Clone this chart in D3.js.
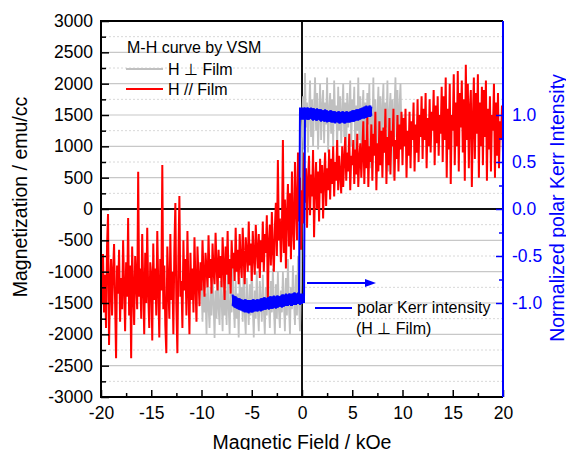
<!DOCTYPE html>
<html>
<head>
<meta charset="utf-8">
<script src="https://cdn.jsdelivr.net/npm/d3@7"></script>
<style>
    body { margin: 0; background: #fff; }
    svg { font-family: "Liberation Sans", Arial, sans-serif; }
</style>
</head>
<body>
<div id="graph"></div>
<script>
// H // Film, VSM, field -20 .. 20 kOe every 0.1 kOe (emu/cc)
var redStart = -20, redStep = 0.1
var redM = [
    -950, -1500, -720, -1650, -1050, -1900, -600, -80, -2170, -1250, -800, -1700, -1000, -560, -1450, -2380, -900, -1350, -650, -1800,
    -1100, -1600, -500, -1250, -1950, -850, -1400, -145, -1700, -900, -2380, -600, -1300, -1850, -750, -1150, -1600, 595, -1400, -950,
    -1750, -400, -1200, -2000, -700, -1500, -300, -1350, -1900, -850, -1050, -2100, -550, -1450, -950, -1700, -350, -1250, -2050, -800,
    -1300, 702, -1600, -900, -1850, -2300, -600, -1200, -1750, -400, -1450, -1000, -2000, -650, 96, -1550, -2300, -800, 207, -1400,
    -1150, -1900, -500, -1300, -800, -1700, -350, -1250, -2000, -700, -1450, -950, -1650, -450, -1200, -1800, -600, -1100, -1550, -850,
    -1300, -500, -1050, -1400, -700, -950, -1250, -420, -1100, -800, -1350, -550, -1000, -1200, -380, -900, -1300, -650, -1100, -750,
    -1250, -450, -900, -1450, -600, -1050, -350, -1200, -800, -1350, -500, -950, -700, -1150, -300, -1000, -650, -1200, -400, -850,
    -1100, -300, -800, -1200, -450, -700, -1000, -200, -900, -550, -1150, -350, -750, -1050, -250, -650, -950, -400, -1100, -500,
    -850, -200, -1000, -400, -700, -100, -1450, -550, -250, -900, -50, -650, -1000, -300, 100, -750, 780, -500, -150, -850,
    -400, 1100, -700, 150, -950, -100, 400, -600, 250, -800, 600, -300, -650, 750, 50, -500, 900, -200, 500, -650,
    300, -230, 900, 100, 650, -300, 450, 850, -100, 550, 200, 940, -450, 350, 750, 0, 600, -200, 800, 250,
    700, -150, 500, 900, 50, 650, 300, 950, 150, 800, 400, 1000, 200, 750, 450, 1100, 300, 850, 550, 250,
    1000, 350, 800, 1150, 450, 900, 600, 1200, 300, 850, 700, 1100, 400, 950, 550, 1200, 350, 800, 1050, 500,
    900, 1400, 400, 1100, 650, 1500, 350, 1000, 750, 1350, 450, 1200, 850, 1550, 300, 1050, 600, 1400, 700, 1250,
    500, 1300, 900, 1600, 400, 1150, 700, 1450, 550, 1250, 1000, 1600, 450, 1100, 800, 1500, 600, 1350, 950, 1550,
    700, 1450, 1000, 1600, 500, 1250, 850, 1550, 650, 1400, 1100, 1700, 600, 1350, 900, 1750, 750, 1500, 1150, 1800,
    800, 1600, 1100, 1850, 650, 1450, 1000, 1750, 900, 1550, 1250, 1900, 700, 1650, 1050, 1800, 850, 1500, 1200, 1950,
    750, 1800, 1100, 2100, 500, 1600, 950, 2000, 400, 1500, 1250, 2150, 700, 1700, 1000, 2200, 600, 1850, 1300, 2050,
    900, 1750, 450, 2300, 1100, 2000, 650, 1600, 1900, 350, 1400, 2100, 800, 1850, 1200, 2150, 500, 1700, 1000, 1950,
    700, 1900, 1150, 2050, 450, 1600, 950, 1800, 600, 1500, 1250, 2000, 500, 1700, 850, 1850, 650, 1400, 1100, 1650,
    900
]

// H ⊥ Film, VSM, field -10 .. 10 kOe every 0.1 kOe (emu/cc)
var grayStart = -10, grayStep = 0.1
var grayM = [
    -1200, -1800, -1000, -1650, -1350, -2000, -1100, -1550, -1900, -1250, -1700, -1050, -1500, -2060, -1300, -1750, -950, -1600, -1850, -1150,
    -1450, -1950, -1050, -1700, -1300, -1850, -1000, -1550, -2000, -1200, -1650, -900, -1500, -1900, -1150, -1750, -1350, -2050, -1100, -1600,
    -1250, -1800, -950, -1650, -2000, -1100, -1500, -1850, -1200, -1700, -900, -1550, -2050, -1300, -1750, -1000, -1600, -1950, -1150, -1450,
    -1800, -1050, -1600, -2000, -1250, -1700, -850, -1500, -1900, -1150, -1650, -950, -1550, -2000, -1200, -1750, -1000, -1600, -1900, -1300,
    -1650, -1000, -1500, -1950, -1100, -1700, -800, -1550, -2000, -1250, -1600, -900, -1450, -1850, -1050, -1700, -750, -1500, -1950, -1200,
    1300,
    1800, 950, 2170, 1300, 1700, 900, 1550, 2050, 1150, 1750, 1000, 1600, 2100, 1250, 1850, 950, 1500, 2000, 1100, 1650,
    1900, 1050, 1700, 1350, 2100, 900, 1600, 1850, 1200, 1750, 1000, 2050, 1400, 1650, 950, 1950, 1250, 1800, 1050, 1550,
    2000, 1150, 1700, 900, 1850, 1300, 1600, 2050, 1000, 1750, 1450, 1950, 850, 1650, 1250, 2100, 1100, 1800, 950, 1550,
    1900, 1050, 1700, 800, 1850, 1350, 2000, 650, 1600, 1200, 2100, 950, 1750, 550, 1500, 1950, 1100, 1800, 700, 1650,
    2000, 900, 1700, 1300, 2050, 600, 1550, 1850, 1000, 1750, 510, 1600, 2100, 1150, 1900, 800, 1650, 2000, 1200, 1500
]

// polar Kerr intensity (normalized), field -6.9 .. 6.9 kOe every 0.1 kOe
var kerrStart = -6.9, kerrStep = 0.1
var kerrUp = [
    -0.91, -1.04, -0.93, -1.05, -0.94, -1.06, -0.95, -1.07, -0.96, -1.08,
    -0.97, -1.09, -0.96, -1.09, -0.97, -1.1, -0.97, -1.09, -0.98, -1.1,
    -0.96, -1.09, -0.97, -1.08, -0.96, -1.09, -0.97, -1.08, -0.95, -1.08,
    -0.95, -1.07, -0.94, -1.07, -0.95, -1.06, -0.94, -1.06, -0.93, -1.06,
    -0.93, -1.05, -0.94, -1.06, -0.92, -1.05, -0.93, -1.04, -0.92, -1.05,
    -0.91, -1.04, -0.92, -1.03, -0.91, -1.03, -0.9, -1.02, -0.91, -1.03,
    -0.9, -1.02, -0.89, -1.02, -0.9, -1.01, -0.89, -1.02, -0.9,
    -1.01, -0.9, -1.0,
    1.08, 0.96, 1.08, 0.95, 1.07, 0.96, 1.08, 0.95,
    1.07, 0.95, 1.06, 0.94, 1.07, 0.95, 1.06, 0.94, 1.06, 0.94,
    1.05, 0.93, 1.06, 0.94, 1.05, 0.93, 1.04, 0.93, 1.05, 0.92,
    1.04, 0.92, 1.04, 0.93, 1.03, 0.92, 1.04, 0.91, 1.03, 0.92,
    1.04, 0.91, 1.03, 0.92, 1.04, 0.92, 1.03, 0.92, 1.04, 0.93,
    1.05, 0.93, 1.05, 0.94, 1.06, 0.94, 1.06, 0.95, 1.07, 0.96,
    1.08, 0.96, 1.09, 0.97, 1.09, 0.98, 1.1, 0.98, 1.09
]
var kerrDown = [
    -1.03, -0.92, -1.05, -0.93, -1.06, -0.95, -1.07, -0.95, -1.08, -0.96,
    -1.09, -0.97, -1.1, -0.96, -1.1, -0.98, -1.11, -0.97, -1.1, -0.97,
    -1.1, -0.96, -1.09, -0.97, -1.09, -0.96, -1.08, -0.96, -1.09, -0.95,
    -1.08, -0.94, -1.07, -0.95, -1.06, -0.94, -1.07, -0.93, -1.06, -0.94,
    -1.06, -0.92, -1.05, -0.93, -1.05, -0.92, -1.04, -0.93, -1.04, -0.91,
    -1.04, -0.91, -1.03, -0.9, -1.03, -0.91, -1.02, -0.9, -1.03, -0.9,
    -1.02, -0.89, -1.02, -0.9, -1.01, -0.89, -1.01,
    1.08, 0.95, 1.08,
    0.95, 1.08, 0.96, 1.07, 0.95, 1.08, 0.95, 1.07, 0.96, 1.07,
    0.94, 1.07, 0.95, 1.06, 0.94, 1.06, 0.95, 1.06, 0.93, 1.05,
    0.94, 1.05, 0.93, 1.05, 0.92, 1.04, 0.93, 1.05, 0.92, 1.04,
    0.92, 1.04, 0.91, 1.03, 0.92, 1.04, 0.91, 1.03, 0.92, 1.04,
    0.92, 1.03, 0.91, 1.04, 0.92, 1.03, 0.92, 1.04, 0.93, 1.05,
    0.93, 1.05, 0.94, 1.06, 0.95, 1.06, 0.95, 1.07, 0.96, 1.08,
    0.97, 1.09, 0.97, 1.1, 0.98, 1.09, 0.98, 1.1, 0.99
]

var xTicks = [-20, -15, -10, -5, 0, 5, 10, 15, 20]
var xMinor = [-17.5, -12.5, -7.5, -2.5, 2.5, 7.5, 12.5, 17.5]
var yTicks = [-3000, -2500, -2000, -1500, -1000, -500, 0, 500, 1000, 1500, 2000, 2500, 3000]
var yMinor = [-2750, -2250, -1750, -1250, -750, -250, 250, 750, 1250, 1750, 2250, 2750]
var kerrTicks = [-1.0, -0.5, 0.0, 0.5, 1.0]
var kerrMinor = [-0.75, -0.25, 0.25, 0.75]

function toPoints(values, start, step) {
    return values.map(function (v, i) { return { h: start + i * step, v: v } })
}

function drawChart() {
    var margin = { top: 21, right: 63, bottom: 53, left: 101 };
    var width = 566 - margin.left - margin.right, height = 450 - margin.top - margin.bottom;
    var blue = '#0000ff'

    var root = d3.select('#graph').append('svg')
        .attr('width', 566)
        .attr('height', 450)

    var svg = root.append('g')
        .attr('transform', 'translate(' + margin.left + ',' + margin.top + ')')

    var x = d3.scaleLinear().domain([-20, 20]).range([0, width])
    var y = d3.scaleLinear().domain([-3000, 3000]).range([height, 0])
    var yK = d3.scaleLinear().domain([-2, 2]).range([height, 0])

    svg.append('defs').append('clipPath')
        .attr('id', 'clip')
        .append('rect')
        .attr('width', width)
        .attr('height', height)

    // grid
    svg.append('g').selectAll('line')
        .data(yMinor)
        .enter().append('line')
        .attr('x1', 0).attr('x2', width)
        .attr('y1', function (d) { return y(d) }).attr('y2', function (d) { return y(d) })
        .attr('stroke', '#d8d8d8')
        .attr('stroke-dasharray', '2,2')
        .attr('stroke-width', 1)
    svg.append('g').selectAll('line')
        .data(yTicks.filter(function (d) { return Math.abs(d) < 3000 && d != 0 }))
        .enter().append('line')
        .attr('x1', 0).attr('x2', width)
        .attr('y1', function (d) { return y(d) }).attr('y2', function (d) { return y(d) })
        .attr('stroke', '#c8c8c8')
        .attr('stroke-width', 1.2)

    // zero lines
    svg.append('line')
        .attr('x1', 0).attr('x2', width)
        .attr('y1', y(0)).attr('y2', y(0))
        .attr('stroke', '#111').attr('stroke-width', 2)
    svg.append('line')
        .attr('x1', x(0)).attr('x2', x(0))
        .attr('y1', 0).attr('y2', height)
        .attr('stroke', '#111').attr('stroke-width', 2)

    var plot = svg.append('g').attr('clip-path', 'url(#clip)')

    var lineM = d3.line()
        .x(function (d) { return x(d.h) })
        .y(function (d) { return y(d.v) })
    var lineK = d3.line()
        .x(function (d) { return x(d.h) })
        .y(function (d) { return yK(d.v) })

    plot.append('path')
        .datum(toPoints(grayM, grayStart, grayStep))
        .attr('d', lineM)
        .attr('fill', 'none')
        .attr('stroke', '#c0c0c0')
        .attr('stroke-width', 1.8)

    plot.append('path')
        .datum(toPoints(redM, redStart, redStep))
        .attr('d', lineM)
        .attr('fill', 'none')
        .attr('stroke', '#ff0000')
        .attr('stroke-width', 2)

    plot.selectAll('.kerr')
        .data([kerrUp, kerrDown])
        .enter().append('path')
        .attr('class', 'kerr')
        .attr('d', function (d) { return lineK(toPoints(d, kerrStart, kerrStep)) })
        .attr('fill', 'none')
        .attr('stroke', blue)
        .attr('stroke-width', 2)

    // axes
    function styleAxis(g, color) {
        g.select('.domain').remove()
        g.attr('font-family', null).attr('font-size', 17.5)
        g.selectAll('line').attr('stroke', color).attr('stroke-width', 1.5)
        g.selectAll('text').attr('fill', color)
    }

    svg.append('g')
        .call(d3.axisLeft(y).tickValues(yTicks).tickSize(-8).tickPadding(8).tickFormat(function (d) { return String(d) }))
        .call(styleAxis, '#000')
    svg.append('g')
        .call(d3.axisLeft(y).tickValues(yMinor).tickSize(-5).tickFormat(''))
        .call(styleAxis, '#000')

    svg.append('g')
        .attr('transform', 'translate(0,' + height + ')')
        .call(d3.axisBottom(x).tickValues(xTicks).tickSize(-7).tickPadding(10).tickFormat(function (d) { return String(d) }))
        .call(styleAxis, '#000')
    svg.append('g')
        .attr('transform', 'translate(0,' + height + ')')
        .call(d3.axisBottom(x).tickValues(xMinor).tickSize(-4).tickFormat(''))
        .call(styleAxis, '#000')

    svg.append('g')
        .attr('transform', 'translate(' + width + ',0)')
        .call(d3.axisRight(yK).tickValues(kerrTicks).tickSize(-7).tickPadding(9).tickFormat(function (d) { return d.toFixed(1) }))
        .call(styleAxis, blue)
    svg.append('g')
        .attr('transform', 'translate(' + width + ',0)')
        .call(d3.axisRight(yK).tickValues(kerrMinor).tickSize(-4).tickFormat(''))
        .call(styleAxis, blue)

    // frame
    svg.append('path')
        .attr('d', 'M' + width + ',0H0V' + height + 'H' + width)
        .attr('fill', 'none')
        .attr('stroke', '#000')
        .attr('stroke-width', 2)
    svg.append('line')
        .attr('x1', width).attr('x2', width)
        .attr('y1', 0).attr('y2', height)
        .attr('stroke', blue)
        .attr('stroke-width', 2)

    // axis titles
    root.append('text')
        .attr('transform', 'translate(27,197) rotate(-90)')
        .attr('text-anchor', 'middle')
        .attr('font-size', 19.5)
        .text('Magnetization / emu/cc')
    root.append('text')
        .attr('x', margin.left + width / 2)
        .attr('y', 449)
        .attr('text-anchor', 'middle')
        .attr('font-size', 19.5)
        .text('Magnetic Field / kOe')
    root.append('text')
        .attr('transform', 'translate(564,208) rotate(-90)')
        .attr('text-anchor', 'middle')
        .attr('font-size', 19.5)
        .attr('fill', blue)
        .text('Normalized polar Kerr Intensity')

    // legend
    var legend = root.append('g').attr('font-size', 16)
    legend.append('text').attr('x', 127).attr('y', 53).text('M-H curve by VSM')
    legend.append('line').attr('x1', 126).attr('x2', 163).attr('y1', 69).attr('y2', 69)
        .attr('stroke', '#c0c0c0').attr('stroke-width', 2)
    legend.append('text').attr('x', 168).attr('y', 75).text('H \u22A5 Film')
    legend.append('line').attr('x1', 126).attr('x2', 163).attr('y1', 89).attr('y2', 89)
        .attr('stroke', '#ff0000').attr('stroke-width', 2)
    legend.append('text').attr('x', 168).attr('y', 95).text('H // Film')

    // kerr annotation
    legend.append('line').attr('x1', 307).attr('x2', 366).attr('y1', 283).attr('y2', 283)
        .attr('stroke', blue).attr('stroke-width', 2)
    legend.append('path').attr('d', 'M365,279L376,283L365,287Z').attr('fill', blue)
    legend.append('line').attr('x1', 315).attr('x2', 352).attr('y1', 308).attr('y2', 308)
        .attr('stroke', blue).attr('stroke-width', 2)
    legend.append('text').attr('x', 357).attr('y', 313).text('polar Kerr intensity')
    legend.append('text').attr('x', 356).attr('y', 334).text('(H \u22A5 Film)')
}

drawChart()
</script>
</body>
</html>
